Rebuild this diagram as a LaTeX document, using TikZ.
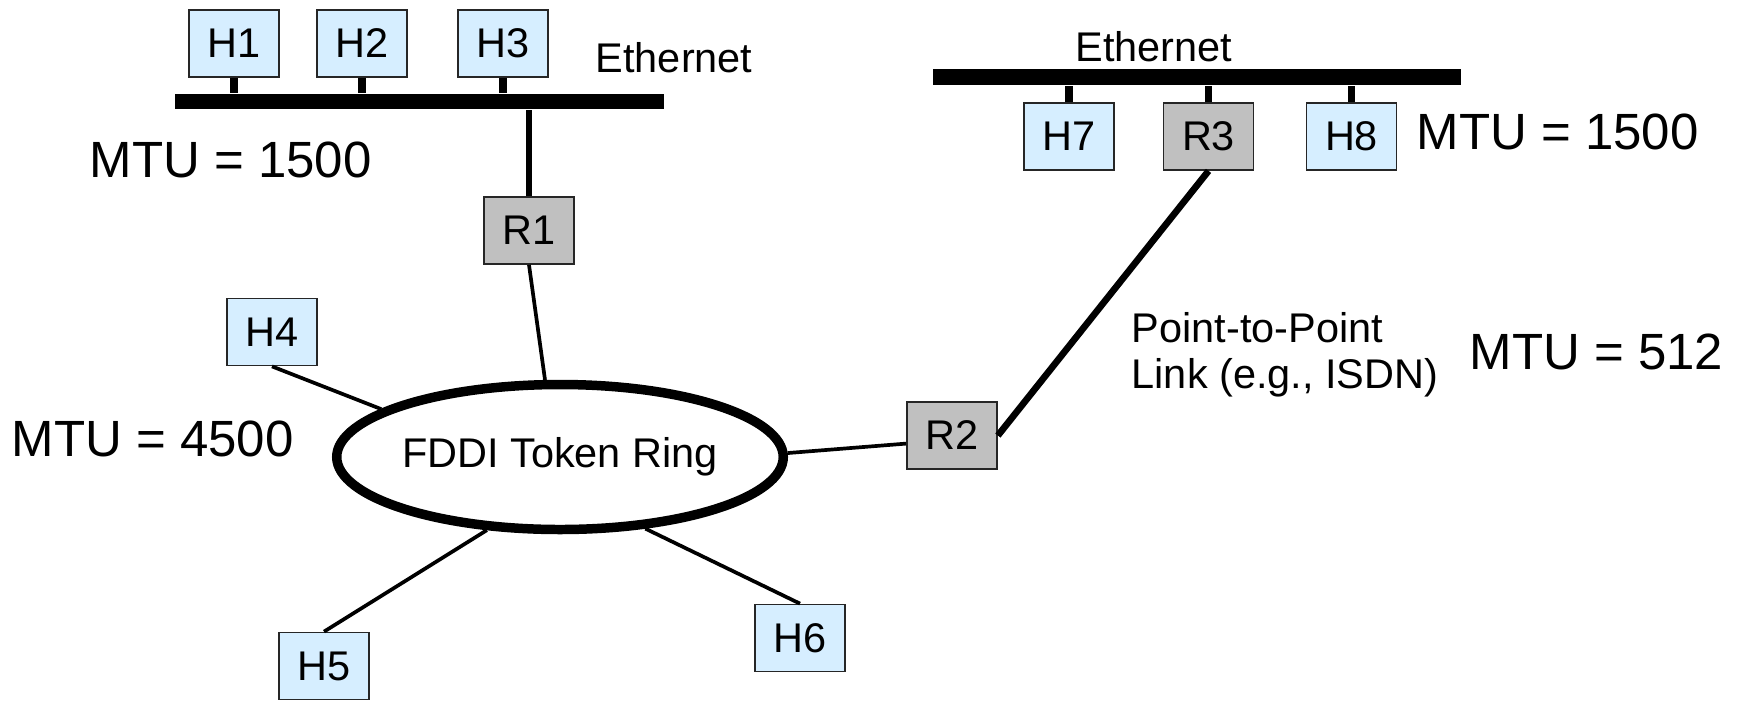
\documentclass[tikz,border=0pt]{standalone}
\usepackage{fontspec}
\setmainfont{Liberation Sans}
\usetikzlibrary{shapes.geometric}

\definecolor{hostblue}{RGB}{214,238,255}
\definecolor{routergray}{RGB}{192,192,192}

\begin{document}
\begin{tikzpicture}[
    font=\fontsize{11.8}{13.1}\selectfont,
    host/.style={draw=black!85, line width=0.5pt, fill=hostblue, minimum width=0.9cm, minimum height=0.67cm, inner sep=0pt},
    router/.style={host, fill=routergray},
    lan/.style={fill=black, inner sep=0pt},
    stub/.style={line width=2pt},
    link/.style={line width=1.05pt},
    mtu/.style={font=\fontsize{14.5}{17}\selectfont, anchor=west, inner sep=0pt}
  ]
    \useasboundingbox (0,0) rectangle (17.52,7);

    % left ethernet
    \node[lan, minimum width=4.89cm, minimum height=0.15cm] (lanL) at (4.195,5.985) {};
    \node[host] (H1) at (2.34,6.565) {H1};
    \node[host] (H2) at (3.62,6.565) {H2};
    \node[host] (H3) at (5.03,6.565) {H3};
    \node[anchor=west, inner sep=0pt] (ethL) at (5.95,6.42) {Ethernet};
    \node[mtu] (mtuL) at (0.89,5.40) {MTU = 1500};
    \draw[stub] (H1.south) -- (H1.south |- lanL.north);
    \draw[stub] (H2.south) -- (H2.south |- lanL.north);
    \draw[stub] (H3.south) -- (H3.south |- lanL.north);
    \node[router] (R1) at (5.29,4.695) {R1};
    \draw[line width=1.6pt] (R1.north) -- (R1.north |- lanL.south); % router up to the bus

    % FDDI ring
    \node[ellipse, draw, line width=2.7pt, minimum width=4.35cm, minimum height=1.45cm, inner sep=0pt] (ring) at (5.60,2.43) {FDDI Token Ring};
    \node[host] (H4) at (2.72,3.68) {H4};
    \node[host] (H5) at (3.24,0.34) {H5};
    \node[host] (H6) at (8.00,0.62) {H6};
    \node[mtu] (mtuF) at (0.11,2.61) {MTU = 4500};
    \draw[link] (R1.south) -- (ring.101);
    \draw[link] (H4.south) -- (ring.165);
    \draw[link] (H5.north) -- (ring.225);
    \draw[link] (H6.north) -- (ring.-40);
    \node[router] (R2) at (9.52,2.645) {R2};
    \draw[link] (ring.1) -- (R2.190);

    % right ethernet
    \node[lan, minimum width=5.28cm, minimum height=0.16cm] (lanR) at (11.97,6.23) {};
    \node (ethR) at (11.54,6.53) {Ethernet};
    \node[host] (H7) at (10.69,5.635) {H7};
    \node[router] (R3) at (12.085,5.635) {R3};
    \node[host] (H8) at (13.515,5.635) {H8};
    \node[mtu] (mtuR) at (14.16,5.68) {MTU = 1500};
    \draw[stub] (H7.north) -- (H7.north |- lanR.south);
    \draw[stub] (R3.north) -- (R3.north |- lanR.south);
    \draw[stub] (H8.north) -- (H8.north |- lanR.south);

    % point-to-point link
    \draw[line width=1.9pt] (R2.east) -- (R3.south);
    \node[anchor=west, align=left, inner sep=0pt] (p2p) at (11.31,3.45) {Point-to-Point\\Link (e.g., ISDN)};
    \node[mtu] (mtuP) at (14.69,3.48) {MTU = 512};
\end{tikzpicture}
\end{document}
